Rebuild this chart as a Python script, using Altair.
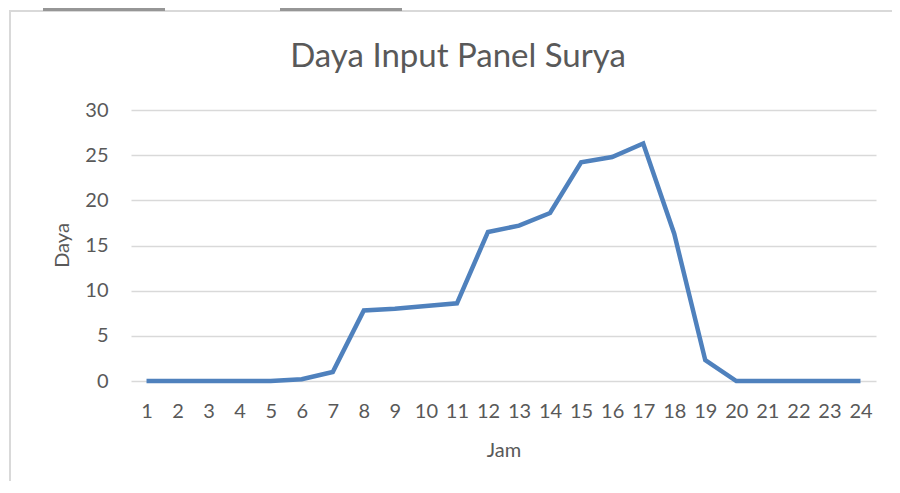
import altair as alt
import pandas as pd

jam = list(range(1, 25))
daya = [0, 0, 0, 0, 0, 0.2, 1.0, 7.8, 8.0, 8.3, 8.6, 16.5, 17.2, 18.6,
        24.2, 24.8, 26.3, 16.3, 2.3, 0, 0, 0, 0, 0]
judul = "Daya Input Panel Surya"

df = pd.DataFrame({"Jam": jam, "Daya": daya})

FONT = "Lato"
TXT = "#595959"

line = alt.Chart(df).mark_line(color="#4f81bd", strokeWidth=4.5, strokeJoin="miter").encode(
    x=alt.X("Jam:O", sort=jam,
            scale=alt.Scale(paddingInner=0, paddingOuter=0.5),
            axis=alt.Axis(title="Jam", labelAngle=0, labelFontSize=20, labelColor=TXT,
                          labelFont=FONT, titleFont=FONT, titleFontSize=20, titleColor=TXT,
                          titleFontWeight="normal", domain=False, ticks=False, grid=False,
                          labelPadding=20, titlePadding=19)),
    y=alt.Y("Daya:Q", scale=alt.Scale(domain=[0, 30]),
            axis=alt.Axis(title="Daya", values=[0, 5, 10, 15, 20, 25, 30], labelFontSize=20,
                          labelColor=TXT, labelFont=FONT, titleFont=FONT, titleFontSize=20,
                          titleColor=TXT, titleFontWeight="normal", domain=False, ticks=False,
                          labelPadding=23, gridColor="#d9d9d9", gridWidth=1.5,
                          titleX=-69, titleY=135, titleAngle=270, titleBaseline="middle",
                          titleAlign="center")),
)

title = alt.Chart(pd.DataFrame({"t": [judul]})).mark_text(
    font=FONT, fontSize=33, color=TXT, align="center", baseline="middle"
).encode(text="t:N", x=alt.value(327), y=alt.value(-53))

border = alt.Chart(df).mark_rect(fill="transparent", stroke="#d9d9d9", strokeWidth=1.5).encode(
    x=alt.value(-121), x2=alt.value(1000), y=alt.value(-99), y2=alt.value(600)
)

tab_left = [-88, 149]
tab_right = [34, 271]
tabs = alt.Chart(pd.DataFrame({"a": tab_left, "b": tab_right})).mark_rect(
    fill="#969696", strokeWidth=0
).encode(x=alt.X("a:Q", scale=None, axis=None), x2="b:Q",
         y=alt.value(-103), y2=alt.value(-99))

chart = alt.layer(border, tabs, title, line).properties(
    width=745, height=271,
    autosize=alt.AutoSizeParams(type="none"),
    padding={"left": 123, "top": 102, "right": 16, "bottom": 100},
    view=alt.ViewBackground(strokeWidth=0, strokeOpacity=0),
).configure_view(strokeWidth=0, strokeOpacity=0).configure(background="white")

chart.save("out.html", embed_options={"renderer": "svg", "actions": False})
